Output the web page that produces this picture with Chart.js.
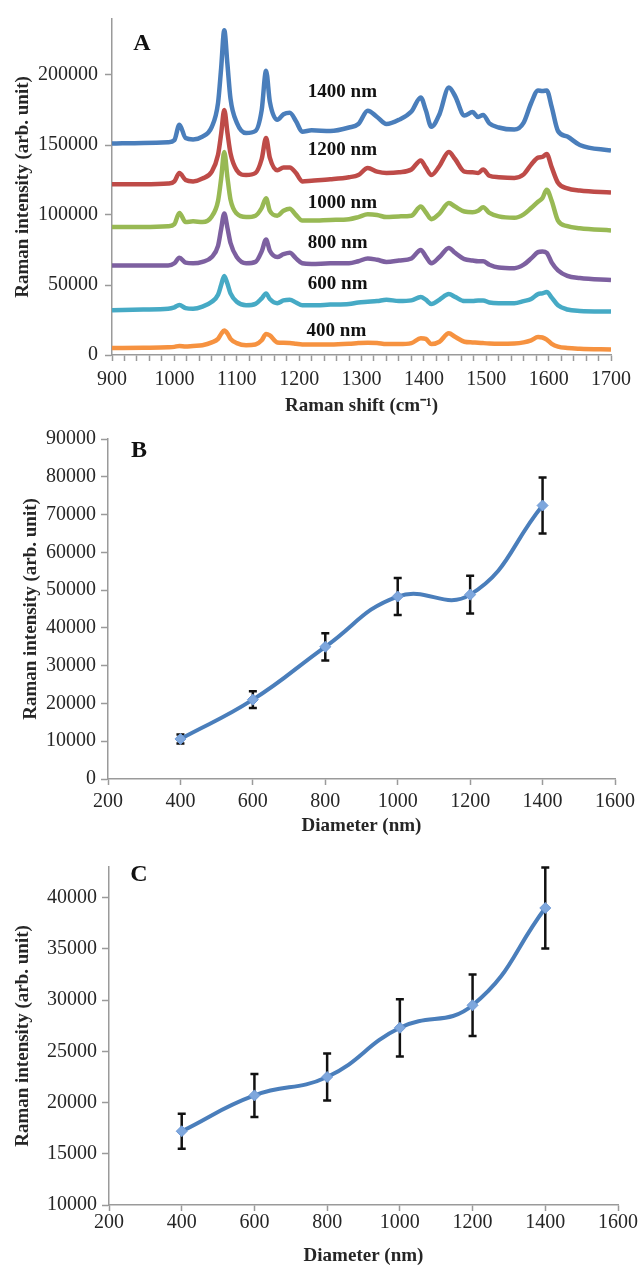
<!DOCTYPE html>
<html lang="en">
<head>
<meta charset="UTF-8">
<title>Raman intensity vs diameter</title>
<script src="https://cdn.jsdelivr.net/npm/chart.js"></script>
<style>
    * {
        margin: 0;
        padding: 0;
    }

    body {
        background-color: #fff;
        width: 640px;
        height: 1267px;
        position: relative;
        overflow: hidden;
    }

    canvas {
        position: absolute;
        left: 0;
    }

    #chartA { top: 0; }
    #chartB { top: 420px; }
    #chartC { top: 850px; }
</style>
</head>
<body>
<canvas id="chartA" width="640" height="420"></canvas>
<canvas id="chartB" width="640" height="430"></canvas>
<canvas id="chartC" width="640" height="417"></canvas>

<script>
// ---- panel A: spectra (Raman shift, cm-1) ----
const wavenumbers = [900, 950, 990, 1000, 1008, 1018, 1030, 1045, 1060, 1070, 1075, 1080, 1085, 1090, 1100, 1115, 1130, 1140, 1147, 1153, 1165, 1175, 1185, 1195, 1205, 1220, 1250, 1280, 1295, 1310, 1325, 1340, 1360, 1380, 1395, 1403, 1412, 1425, 1440, 1450, 1465, 1478, 1487, 1495, 1505, 1520, 1545, 1560, 1572, 1583, 1590, 1597, 1605, 1615, 1630, 1650, 1700];

const spec1400 = [151000, 151500, 152000, 153500, 164500, 155000, 154000, 156000, 163000, 180000, 205000, 232000, 208000, 183000, 166000, 158500, 160000, 175000, 203000, 181000, 168000, 172000, 173000, 167000, 159500, 160500, 160000, 162500, 165000, 174500, 170000, 165000, 168000, 174000, 184000, 175000, 163000, 172000, 191000, 185000, 171000, 173500, 170000, 171500, 165500, 162500, 161000, 166000, 180000, 189000, 188500, 189000, 177000, 160000, 156000, 150000, 146000];
const spec1200 = [122000, 122000, 122500, 124000, 130000, 125000, 124000, 126000, 131000, 143000, 158000, 175000, 159000, 144000, 132000, 128500, 130000, 140000, 155000, 141000, 132000, 134000, 134000, 130000, 124000, 124500, 125500, 127000, 128500, 133500, 131000, 130000, 130500, 132500, 139000, 134000, 128500, 135000, 145000, 140000, 131000, 130500, 130000, 132500, 128000, 127000, 126500, 129000, 136000, 141000, 141500, 143500, 134000, 123000, 119000, 117500, 116000];
const spec1000 = [91500, 91500, 92000, 93500, 101500, 95000, 95500, 95000, 99000, 110000, 126000, 145000, 127000, 111000, 101000, 98500, 99500, 105000, 112000, 103000, 99500, 103000, 104500, 100000, 96000, 96000, 96500, 97000, 98500, 100500, 100000, 98500, 99000, 99500, 106000, 102000, 97000, 101000, 108500, 106000, 102500, 102000, 103000, 105500, 101500, 99000, 98000, 100500, 105000, 109500, 112000, 118000, 110000, 96000, 92000, 90500, 89000];
const spec800 = [64000, 64000, 64000, 65500, 69500, 66000, 65500, 66500, 70000, 78000, 90000, 101000, 91000, 80000, 70000, 65500, 66500, 74000, 82500, 74500, 70000, 72000, 73000, 69000, 65500, 65000, 65500, 65500, 67000, 69000, 68000, 66500, 67500, 69000, 75000, 70500, 65500, 70000, 76500, 73000, 68500, 67500, 67000, 67000, 64500, 62500, 62000, 64500, 69000, 73500, 74000, 73000, 66000, 60500, 56500, 55000, 53500];
const spec600 = [32000, 32500, 33000, 34000, 35800, 33500, 33000, 34500, 38000, 43000, 50000, 56500, 51000, 44000, 38000, 35500, 36500, 40500, 44000, 40000, 37000, 39000, 39500, 37500, 35500, 35500, 36000, 36500, 37500, 38000, 38500, 39500, 38500, 39000, 41500, 39500, 36500, 39500, 43500, 41500, 38500, 38500, 39000, 39000, 37500, 37000, 37000, 38500, 40000, 43500, 44000, 45000, 41000, 35500, 32500, 31500, 31000];
const spec400 = [5000, 5200, 5500, 5800, 6500, 6000, 6500, 7000, 9000, 11500, 15000, 17500, 15500, 11500, 8500, 7000, 7500, 10500, 15000, 14000, 9000, 8800, 8500, 8000, 7500, 7500, 7500, 8000, 8500, 8800, 8500, 7800, 7800, 8500, 12000, 11500, 7800, 9500, 15500, 13000, 9500, 9000, 8800, 8500, 8200, 8000, 8200, 9000, 10500, 12800, 12500, 11000, 8000, 6000, 5000, 4500, 4000];

// ---- panels B and C: intensity vs diameter ----
const diameters = [400, 600, 800, 1000, 1200, 1400];
const intensityB = [10600, 21000, 35000, 48300, 48800, 72400];
const errorB = [1200, 2200, 3600, 4900, 5000, 7400];
const intensityC = [17200, 20700, 22500, 27300, 29500, 39000];
const errorC = [1700, 2100, 2300, 2800, 3000, 3950];

const spectraColors = ['#4a7ebb', '#be4b48', '#98b954', '#7d60a0', '#46aac5', '#f69240'];
const axisGray = '#9a9a9a';
const textColor = '#262626';
const serif = "'Liberation Serif', 'Times New Roman', serif";

Chart.defaults.font.family = serif;
Chart.defaults.color = textColor;

function points(xs, ys) {
    return xs.map((x, i) => ({ x: x, y: ys[i] }));
}

function xAxis(min, max, step, labelEvery, title, o) {
    return {
        type: 'linear',
        min: min,
        max: max,
        border: { color: axisGray, width: 1.5 },
        grid: { drawOnChartArea: false, drawTicks: true, tickLength: 6, tickColor: axisGray, tickWidth: 1.5 },
        ticks: {
            stepSize: step,
            autoSkip: false,
            maxRotation: 0,
            padding: o.tickPad,
            font: { size: 20 },
            color: textColor,
            callback: v => (v % labelEvery === 0 ? String(v) : '')
        },
        title: {
            display: true,
            text: title,
            font: { size: 19, weight: 'bold' },
            color: textColor,
            padding: { top: 0, bottom: o.titlePad }
        },
        afterFit: s => { s.height = o.height; }
    };
}

function yAxis(min, max, step, o) {
    return {
        type: 'linear',
        min: min,
        max: max,
        border: { color: axisGray, width: 1.5 },
        grid: { drawOnChartArea: false, drawTicks: true, tickLength: 7, tickColor: axisGray, tickWidth: 1.5 },
        ticks: {
            padding: o.tickPad,
            font: { size: 20 },
            color: textColor,
            callback: v => String(v)
        },
        title: {
            display: true,
            text: 'Raman intensity (arb. unit)',
            font: { size: 19, weight: 'bold' },
            color: textColor,
            padding: { top: o.titlePad, bottom: 0 }
        },
        // axis runs a bit past the last labelled tick, as in the original
        afterBuildTicks: s => {
            const t = [];
            for (let v = min; v <= max; v += step) t.push({ value: v });
            s.ticks = t;
        },
        afterFit: s => { s.width = o.width; }
    };
}

// big bold panel letter
const panelLetter = {
    id: 'panelLetter',
    afterDraw(chart, args, opts) {
        const ctx = chart.ctx;
        ctx.save();
        ctx.font = 'bold 24px ' + serif;
        ctx.fillStyle = '#111';
        ctx.textAlign = 'center';
        ctx.textBaseline = 'middle';
        ctx.fillText(opts.text, opts.x, opts.y);
        ctx.restore();
    }
};

// "1400 nm" ... text next to each spectrum, placed in data units
const spectrumLabels = {
    id: 'spectrumLabels',
    afterDatasetsDraw(chart, args, opts) {
        if (!opts.items) return;
        const ctx = chart.ctx;
        const xs = chart.scales.x, ys = chart.scales.y;
        ctx.save();
        ctx.font = 'bold 19px ' + serif;
        ctx.fillStyle = '#111';
        ctx.textAlign = 'left';
        ctx.textBaseline = 'middle';
        opts.items.forEach(it => {
            ctx.fillText(it.text, xs.getPixelForValue(it.x), ys.getPixelForValue(it.y));
        });
        ctx.restore();
    }
};

// vertical error bars with caps
const errorBars = {
    id: 'errorBars',
    beforeDatasetsDraw(chart, args, opts) {
        if (!opts.errors) return;
        const ctx = chart.ctx;
        const xs = chart.scales.x, ys = chart.scales.y;
        const data = chart.data.datasets[0].data;
        ctx.save();
        ctx.strokeStyle = '#111';
        ctx.lineWidth = 2.5;
        data.forEach((p, i) => {
            const e = opts.errors[i];
            const px = xs.getPixelForValue(p.x);
            const top = ys.getPixelForValue(p.y + e);
            const bot = ys.getPixelForValue(p.y - e);
            ctx.beginPath();
            ctx.moveTo(px, top);
            ctx.lineTo(px, bot);
            ctx.moveTo(px - 4, top);
            ctx.lineTo(px + 4, top);
            ctx.moveTo(px - 4, bot);
            ctx.lineTo(px + 4, bot);
            ctx.stroke();
        });
        ctx.restore();
    }
};

Chart.register(panelLetter, spectrumLabels, errorBars);

// ---- chart A ----
const spectra = [spec1400, spec1200, spec1000, spec800, spec600, spec400];
const spectraNames = ['1400 nm', '1200 nm', '1000 nm', '800 nm', '600 nm', '400 nm'];

new Chart(document.getElementById('chartA'), {
    type: 'line',
    data: {
        datasets: spectra.map((s, i) => ({
            label: spectraNames[i],
            data: points(wavenumbers, s),
            borderColor: spectraColors[i],
            borderWidth: 4.5,
            pointRadius: 0,
            cubicInterpolationMode: 'monotone',
            order: 5 - i
        }))
    },
    options: {
        responsive: false,
        animation: false,
        layout: { padding: { top: 17, right: 29, left: 0, bottom: 0 } },
        scales: {
            x: xAxis(900, 1700, 20, 100, 'Raman shift (cm\u207B\u00B9)', { tickPad: 7, titlePad: 3, height: 65 }),
            y: yAxis(0, 240000, 50000, { tickPad: 7, titlePad: 12, width: 112 })
        },
        plugins: {
            legend: { display: false },
            tooltip: { enabled: false },
            panelLetter: { text: 'A', x: 142, y: 44 },
            spectrumLabels: {
                items: [
                    { text: spectraNames[0], x: 1214, y: 188000 },
                    { text: spectraNames[1], x: 1214, y: 146300 },
                    { text: spectraNames[2], x: 1214, y: 108300 },
                    { text: spectraNames[3], x: 1214, y: 80100 },
                    { text: spectraNames[4], x: 1214, y: 50900 },
                    { text: spectraNames[5], x: 1212, y: 17100 }
                ]
            }
        }
    }
});

// ---- charts B and C ----
function diameterChart(id, values, errors, yMin, yMax, letter, o) {
    new Chart(document.getElementById(id), {
        type: 'line',
        data: {
            datasets: [{
                label: 'Raman intensity',
                data: points(diameters, values),
                borderColor: '#4a7ebb',
                borderWidth: 4,
                tension: 0.45,
                pointStyle: 'rectRot',
                pointRadius: 5.5,
                pointBackgroundColor: '#7ea7dd',
                pointBorderColor: '#6f9ad6',
                pointBorderWidth: 1
            }]
        },
        options: {
            responsive: false,
            animation: false,
            layout: { padding: { top: o.top, right: 22, left: 0, bottom: 0 } },
            scales: {
                x: xAxis(200, 1600, 200, 200, 'Diameter (nm)', { tickPad: o.xTickPad, titlePad: o.xTitlePad, height: o.xHeight }),
                y: yAxis(yMin, yMax, o.yStep, { tickPad: 5, titlePad: o.yTitlePad, width: o.yWidth })
            },
            plugins: {
                legend: { display: false },
                tooltip: { enabled: false },
                panelLetter: { text: letter, x: o.lx, y: o.ly },
                errorBars: { errors: errors }
            }
        }
    });
}

diameterChart('chartB', intensityB, errorB, 0, 90000, 'B',
    { top: 19, xHeight: 71, xTickPad: 5, xTitlePad: 13, yStep: 10000, yTitlePad: 20, yWidth: 108, lx: 139, ly: 31 });
diameterChart('chartC', intensityC, errorC, 10000, 43000, 'C',
    { top: 15, xHeight: 62, xTickPad: 0, xTitlePad: 0, yStep: 5000, yTitlePad: 12, yWidth: 109, lx: 139, ly: 25 });
</script>
</body>
</html>
